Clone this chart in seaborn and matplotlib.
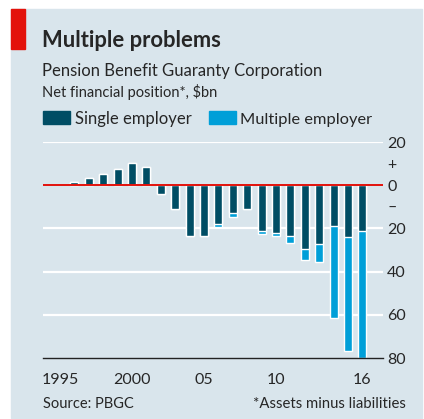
import matplotlib
matplotlib.use("Agg")
import matplotlib.pyplot as plt
import seaborn as sns
import pandas as pd
from matplotlib.patches import Rectangle

# data, $bn
years = list(range(1996, 2017))
single = [1.5, 3.3, 5.1, 7.4, 10.2, 8.4, -4.2, -11.2, -23.3, -23.3, -18.1,
          -13.1, -11.2, -21.0, -22.0, -23.3, -29.4, -27.0, -19.0, -24.2, -21.0]
multiple = [0, 0, 0, 0, 0, 0, 0, 0, 0, 0, -1.4,
            -1.4, 0, -1.4, -1.3, -3.4, -5.2, -8.5, -42.3, -52.5, -59.0]
xtick_years = [1995, 2000, 2005, 2010, 2016]
xtick_labels = ["1995", "2000", "05", "10", "16"]
ytick_values = [20, 10, 0, -10, -20, -40, -60, -80]
ytick_labels = ["20", "+", "0", "\u2013", "20", "40", "60", "80"]

BG = "#d9e5ec"
DARK = "#004d64"
LIGHT = "#009fd8"
RED = "#e3120b"

sns.set_style("white")
plt.rcParams["font.family"] = ["Lato", "DejaVu Sans"]

df = pd.DataFrame({"year": years, "single": single, "multiple": multiple})
df["total"] = df["single"] + df["multiple"]

W, H = 424, 419
fig = plt.figure(figsize=(W / 100, H / 100), dpi=100, facecolor="white")
fig.patches.append(Rectangle((11 / W, 1 - 418 / H), 411 / W, 409 / H,
                             transform=fig.transFigure, color=BG, zorder=-2))
fig.patches.append(Rectangle((11 / W, 1 - 49 / H), 14 / W, 40 / H,
                             transform=fig.transFigure, color=RED, zorder=-1))

ax = fig.add_axes([43 / W, 1 - 358 / H, 340 / W, 216 / H])
ax.set_facecolor(BG)

for v in [20, -20, -40, -60]:
    ax.axhline(v, color="white", lw=1.6, zorder=0)

# total first (light), then single employer on top (dark)
sns.barplot(data=df, x="year", y="total", native_scale=True, width=0.55,
            color=LIGHT, saturation=1, errorbar=None, ax=ax, zorder=2)
sns.barplot(data=df, x="year", y="single", native_scale=True, width=0.55,
            color=DARK, saturation=1, errorbar=None, ax=ax, zorder=3)
ax.axhline(0, color=RED, lw=1.4, zorder=4)

ax.set_xlim(1993.82, 2017.43)
ax.set_ylim(-80, 20)
for s in ["top", "left", "right"]:
    ax.spines[s].set_visible(False)
ax.spines["bottom"].set_color("#222222")
ax.spines["bottom"].set_linewidth(1)

ax.set_xticks(xtick_years)
ax.set_xticklabels(xtick_labels)
ax.set_xticks(range(1995, 2017), minor=True)
ax.tick_params(axis="x", which="major", length=5, width=0.8, color="#222222",
               labelsize=11.5, pad=6)
ax.tick_params(axis="x", which="minor", length=3.5, width=0.8, color="#222222")

ax.yaxis.tick_right()
ax.set_yticks(ytick_values)
ax.set_yticklabels(ytick_labels)
ax.tick_params(axis="y", length=0, labelsize=11.5, pad=3)
ax.set_xlabel("")
ax.set_ylabel("")

fig.text(42 / W, 1 - 47 / H, "Multiple problems", fontsize=15.8, fontweight="bold",
         va="baseline", ha="left")
fig.text(42 / W, 1 - 76 / H, "Pension Benefit Guaranty Corporation", fontsize=12,
         va="baseline", ha="left")
fig.text(42 / W, 1 - 96.5 / H, "Net financial position*, $bn", fontsize=10.5,
         va="baseline", ha="left")

# legend
fig.patches.append(Rectangle((43 / W, 1 - 124 / H), 27 / W, 13 / H,
                             transform=fig.transFigure, color=DARK))
fig.text(75 / W, 1 - 124 / H, "Single employer", fontsize=12, va="baseline")
fig.patches.append(Rectangle((209 / W, 1 - 124 / H), 27 / W, 13 / H,
                             transform=fig.transFigure, color=LIGHT))
fig.text(240 / W, 1 - 124 / H, "Multiple employer", fontsize=11.8, va="baseline")

fig.text(43 / W, 1 - 404 / H, "Source: PBGC", fontsize=10.5, va="center")
fig.text(406 / W, 1 - 404 / H, "*Assets minus liabilities", fontsize=10.7,
         va="center", ha="right")

fig.savefig("out.png", dpi=100, facecolor="white")
